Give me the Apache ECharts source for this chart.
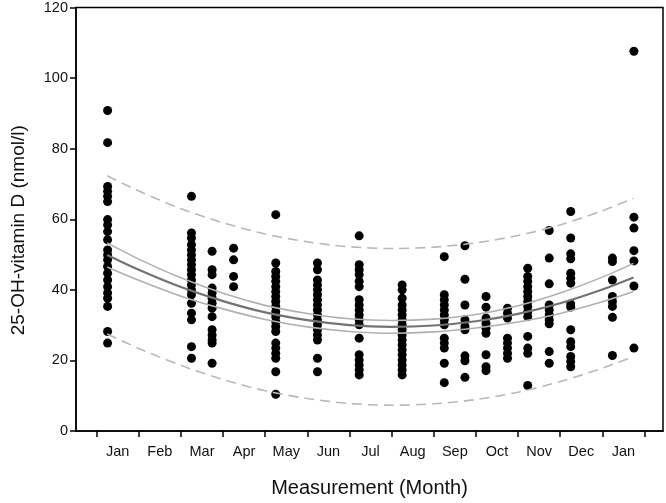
<!DOCTYPE html>
<html><head><meta charset="utf-8">
<script src="https://cdn.jsdelivr.net/npm/echarts@6/dist/echarts.min.js"></script>
<style>html,body{margin:0;padding:0;background:#fff}#c{width:666px;height:503px}</style>
</head><body><div id="c"></div>
<script>
// Month labels (centred in each month) and month boundary ticks
const monthLabels = ['Jan','Feb','Mar','Apr','May','Jun','Jul','Aug','Sep','Oct','Nov','Dec','Jan'];
const monthTicks = [0,1,2,3,4,5,6,7,8,9,10,11,12,13];
const labelPos = [0.5,1.5,2.5,3.5,4.5,5.5,6.5,7.5,8.5,9.5,10.5,11.5,12.5];
const yTicks = [0,20,40,60,80,100,120];

// Measurement columns: x position (months) and 25-OH-vitamin D values
const columnX = [0.26, 2.25, 2.74, 3.25, 4.25, 5.24, 6.23, 7.25, 8.25, 8.74, 9.24, 9.75, 10.23, 10.74, 11.25, 12.24, 12.75];
const janA = [90.8, 81.7, 69.3, 67.9, 66.5, 65.0, 59.9, 58.4, 56.5, 54.2, 51.3, 49.9, 48.5, 46.6, 44.7, 42.8, 40.9, 39.1, 37.6, 35.3, 28.2, 24.9];
const marA = [66.5, 56.1, 54.7, 52.8, 51.3, 49.9, 48.5, 47.1, 45.7, 44.3, 42.8, 41.4, 40.0, 38.6, 36.2, 33.4, 31.5, 23.9, 20.6];
const marB = [50.9, 45.7, 44.3, 40.5, 39.1, 37.6, 36.2, 34.8, 32.4, 28.7, 27.2, 25.8, 24.9, 19.2];
const aprA = [51.8, 48.5, 43.8, 40.9];
const mayA = [61.3, 47.6, 45.2, 43.8, 42.4, 40.9, 39.5, 38.1, 36.7, 35.3, 33.8, 32.4, 31.0, 29.6, 28.2, 24.9, 23.5, 22.0, 20.6, 16.8, 10.4];
const junA = [47.6, 45.7, 42.8, 41.4, 40.0, 38.6, 37.2, 35.7, 34.3, 32.9, 31.5, 30.1, 28.7, 27.2, 25.8, 20.6, 16.8];
const julA = [55.3, 47.1, 45.7, 44.3, 42.4, 40.9, 37.2, 35.7, 34.3, 32.9, 31.5, 30.1, 26.3, 21.6, 20.1, 18.7, 17.3, 15.9];
const augA = [41.4, 40.0, 37.6, 35.7, 34.3, 32.9, 31.5, 30.1, 28.7, 27.2, 25.8, 24.4, 23.0, 21.6, 20.1, 18.7, 17.3, 15.9];
const sepA = [49.4, 38.6, 37.2, 35.7, 34.3, 32.9, 31.5, 30.1, 26.3, 24.9, 23.5, 19.2, 13.7];
const sepB = [52.5, 43.0, 35.7, 31.5, 29.6, 28.7, 21.3, 19.9, 15.2];
const octA = [38.1, 35.1, 32.0, 30.5, 29.1, 27.7, 21.6, 18.2, 17.1];
const octB = [34.8, 33.4, 32.0, 26.3, 24.9, 23.5, 22.0, 20.6];
const novA = [46.1, 43.8, 42.4, 40.9, 39.5, 38.1, 36.7, 35.3, 33.8, 32.4, 26.8, 23.5, 22.0, 12.9];
const novB = [56.8, 49.0, 41.7, 35.7, 34.3, 32.9, 31.5, 30.4, 22.5, 19.2];
const decA = [62.2, 54.7, 50.2, 48.8, 44.7, 43.3, 41.9, 36.0, 35.1, 28.7, 25.3, 23.9, 21.1, 19.7, 18.2];
const janB = [49.0, 48.0, 42.8, 38.1, 36.7, 35.3, 32.2, 21.4];
const janC = [107.6, 60.6, 57.5, 51.1, 48.2, 41.1, 23.5];
const columns = [janA, marA, marB, aprA, mayA, junA, julA, augA, sepA, sepB, octA, octB, novA, novB, decA, janB, janC];

// Fitted curve, 95% confidence and prediction bands
const curveX  = [0.25, 1, 2, 3, 4, 5, 6, 7, 8, 9, 10, 11, 12, 12.74];
const fitY    = [49.9, 45.7, 40.8, 36.8, 33.6, 31.4, 30.0, 29.5, 29.9, 31.1, 33.2, 36.2, 40.1, 43.5];
const ciUpper = [53.3, 48.7, 43.4, 39.0, 35.6, 33.3, 31.8, 31.3, 31.7, 33.0, 35.5, 39.1, 43.6, 47.5];
const ciLower = [46.5, 42.7, 38.2, 34.6, 31.6, 29.5, 28.2, 27.7, 28.1, 29.2, 30.9, 33.3, 36.6, 39.5];
const piUpper = [72.3, 68.0, 63.0, 59.0, 55.8, 53.6, 52.2, 51.7, 52.1, 53.3, 55.4, 58.4, 62.4, 65.9];
const piLower = [27.5, 23.4, 18.6, 14.6, 11.4, 9.2, 7.8, 7.3, 7.7, 8.9, 11.0, 14.0, 17.8, 21.1];

const scatterData = [];
columns.forEach((vals, i) => vals.forEach(v => scatterData.push([columnX[i], v])));
const pair = ys => curveX.map((x, i) => [x, ys[i]]);

const font = 'Liberation Sans, Arial, sans-serif';
const chart = echarts.init(document.getElementById('c'), null, {renderer: 'canvas'});
function lineSeries(ys, color, width, type, z) {
  return {type: 'line', data: pair(ys), showSymbol: false, smooth: 0.3, silent: true, z: z,
          lineStyle: {color: color, width: width, type: type}};
}
chart.setOption({
  animation: false,
  backgroundColor: '#fff',
  grid: {left: 76, top: 7, right: 3, bottom: 72, show: true, borderColor: '#000', borderWidth: 1.5, containLabel: false},
  xAxis: {
    type: 'value', min: -0.49, max: 13.44,
    name: 'Measurement (Month)', nameLocation: 'middle', nameGap: 47,
    nameTextStyle: {fontFamily: font, fontSize: 20, color: '#111'},
    axisLine: {show: true, onZero: false, lineStyle: {color: '#000', width: 1.5}},
    axisTick: {show: true, inside: false, length: 6, customValues: monthTicks, lineStyle: {color: '#000', width: 1.5}},
    axisLabel: {show: true, customValues: labelPos, margin: 13, fontFamily: font, fontSize: 14.5, color: '#111',
      formatter: v => monthLabels[Math.round(v - 0.5)]},
    splitLine: {show: false}
  },
  yAxis: {
    type: 'value', min: 0, max: 120, interval: 20,
    name: '25-OH-vitamin D (nmol/l)', nameLocation: 'middle', nameGap: 48, nameRotate: 90,
    nameTextStyle: {fontFamily: font, fontSize: 19, color: '#111', padding: [0, 22, 0, 0]},
    axisLine: {show: true, onZero: false, lineStyle: {color: '#000', width: 1.5}},
    axisTick: {show: true, inside: false, length: 6, customValues: yTicks, lineStyle: {color: '#000', width: 1.5}},
    axisLabel: {show: true, customValues: yTicks, margin: 8, fontFamily: font, fontSize: 14.5, color: '#111'},
    splitLine: {show: false}
  },
  series: [
    {type: 'scatter', data: scatterData, symbol: 'circle', symbolSize: 9, itemStyle: {color: '#000', opacity: 1}, z: 2, silent: true},
    lineSeries(piUpper, '#b8b8b8', 1.6, [10, 6], 3),
    lineSeries(piLower, '#b8b8b8', 1.6, [10, 6], 3),
    lineSeries(ciUpper, '#b0b0b0', 1.6, 'solid', 4),
    lineSeries(ciLower, '#b0b0b0', 1.6, 'solid', 4),
    lineSeries(fitY, '#737373', 2.2, 'solid', 5)
  ]
});
</script></body></html>
